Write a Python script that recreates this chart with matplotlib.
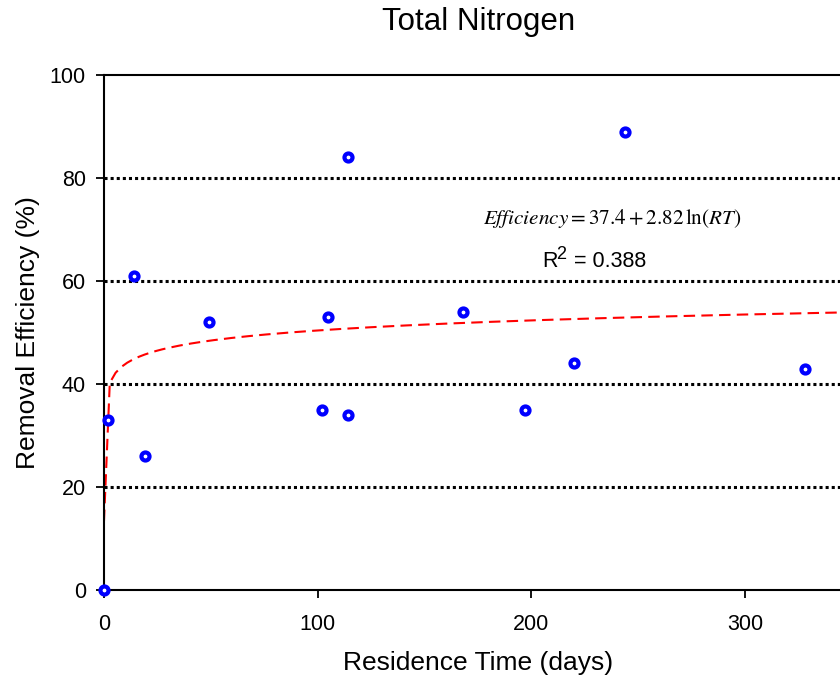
import numpy as np
import matplotlib
matplotlib.use("Agg")
import matplotlib.pyplot as plt

plt.rcParams['font.family'] = ['Liberation Sans', 'DejaVu Sans']

# Residence time (days) and total nitrogen removal efficiency (%)
residence_days = [0, 2, 14, 19, 49, 102, 105, 114, 114, 168, 197, 220, 244, 328]
efficiency_pct = [0, 33, 61, 26, 52, 35, 53, 84, 34, 54, 35, 44, 89, 43]

# Logarithmic fit: Efficiency = a + b ln(RT)
fit_a = 37.4
fit_b = 2.82
r_squared = 0.388

y_ticks = [0, 20, 40, 60, 80, 100]
x_ticks = [0, 100, 200, 300]

fig = plt.figure(figsize=(8.4, 6.8), dpi=100)
# axes runs slightly off the right edge of the canvas
ax = fig.add_axes([0.1238, 0.1324, 0.8905, 0.7574])

for yv in y_ticks[1:-1]:
    ax.axhline(yv, color='black', lw=2.2, linestyle=(0, (1, 1.0)), zorder=1)

rt = np.linspace(0.0002, 350, 130)
ax.plot(rt, fit_a + fit_b * np.log(rt), color='red', lw=1.5,
        linestyle=(0, (5.5, 3)), zorder=2)

ax.plot(residence_days, efficiency_pct, linestyle='none', marker='o',
        markersize=5.8, markerfacecolor='white', markeredgecolor='#0000ff',
        markeredgewidth=3.0, zorder=5, clip_on=False)

ax.set_xlim(0, 350)
ax.set_ylim(0, 100)
ax.set_xticks(x_ticks)
ax.set_yticks(y_ticks)
ax.tick_params(axis='both', direction='out', length=6, width=1.3, labelsize=15.5)
ax.tick_params(axis='x', pad=11)
ax.tick_params(axis='y', pad=7)
for sp in ax.spines.values():
    sp.set_linewidth(1.5)

ax.set_xlabel('Residence Time (days)', fontsize=19, labelpad=12)
ax.set_ylabel('Removal Efficiency (%)', fontsize=19, labelpad=7)

# text placed in pixel units of the 840x680 canvas
px = fig.dpi_scale_trans
def P(x, y):
    return x / 100.0, (680 - y) / 100.0

fig.text(*P(479, 22), 'Total Nitrogen', ha='center', va='center',
         fontsize=22.5, transform=px)

fig.text(*P(612, 219), r'$\mathit{Efficiency} = 37.4 + 2.82\,\ln(\mathit{RT})$',
         math_fontfamily='stix', ha='center', va='center', fontsize=15.2,
         transform=px)

fig.text(*P(542, 267), 'R', ha='left', va='baseline', fontsize=15.5, transform=px)
fig.text(*P(556, 259), '2', ha='left', va='baseline', fontsize=13, transform=px)
fig.text(*P(568, 267), ' = %.3f' % r_squared, ha='left', va='baseline',
         fontsize=15.5, transform=px)

fig.savefig('out.png', dpi=100)
